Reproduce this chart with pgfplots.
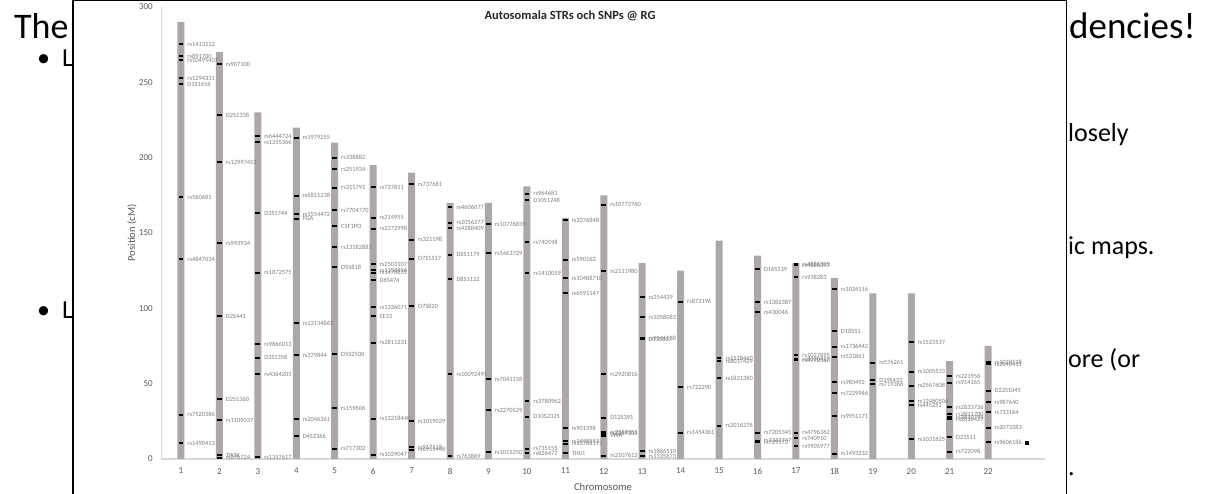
\documentclass[border=0pt]{standalone}
\usepackage{fontspec}
\setmainfont{Carlito}
\usepackage{pgfplots}
\usepackage{pgfplotstable}
\pgfplotsset{compat=1.18}
\definecolor{barcol}{RGB}{172,168,168}
\definecolor{tickcol}{RGB}{89,89,89}
\definecolor{labcol}{RGB}{125,125,125}
\definecolor{axcol}{RGB}{217,217,217}

\pgfplotstableread{
x y
1 290
2 270
3 230
4 220
5 210
6 195
7 190
8 170
9 170
10 181
11 160
12 175
13 130
14 125
15 145
16 135
17 130
18 120
19 110
20 110
21 65
22 75
}\chrlen

\pgfplotstableread{
x y label
1 275.4 rs1413212
1 267.4 rs891700
1 264.8 rs10495407
1 252.8 rs1294331
1 248.8 D1S1656
1 173.9 rs560681
1 132.7 rs4847034
1 29.4 rs7520386
1 10.6 rs1490413
2 262.1 rs907100
2 228.3 D2S1338
2 197.1 rs12997453
2 143.3 rs993934
2 94.9 D2S441
2 39.8 D2S1360
2 25.9 rs1109037
2 2.5 TPOX
2 0.8 rs876724
3 214.3 rs6444724
3 210.4 rs1355366
3 163.2 D3S1744
3 123.6 rs1872575
3 76.1 rs9866013
3 67.2 D3S1358
3 56.4 rs4364205
3 1.1 rs1357617
4 213.2 rs1979255
4 174.7 rs6811238
4 162.6 rs1554472
4 159.5 FGA
4 90.2 rs13134862
4 68.8 rs279844
4 26.5 rs2046361
4 15.3 D4S2366
5 200.0 rs338882
5 192.2 rs251934
5 180.0 rs315791
5 165.2 rs7704770
5 154.6 CSF1PO
5 140.5 rs13182883
5 127.2 D5S818
5 69.5 D5S2500
5 33.6 rs159606
5 6.8 rs717302
6 180.3 rs727811
6 160.1 rs214955
6 152.8 rs2272998
6 129.4 rs2503107
6 125.4 rs1358856
6 123.6 rs1478831
6 118.6 D6S474
6 100.9 rs1336071
6 94.9 SE33
6 77.2 rs2811231
6 26.7 rs13218440
6 2.9 rs1029047
7 182.3 rs737681
7 145.5 rs321198
7 132.9 D7S1517
7 101.3 D7S820
7 25.2 rs1019029
7 7.8 rs917118
7 6.2 rs6955448
8 167.0 rs4606077
8 156.8 rs2056277
8 153.3 rs4288409
8 135.6 D8S1179
8 119.2 D8S1132
8 56.2 rs10092491
8 2.0 rs763869
9 155.9 rs10776839
9 136.5 rs1463729
9 53.1 rs7041158
9 32.3 rs2270529
9 4.6 rs1015250
10 176.0 rs964681
10 172.0 D10S1248
10 143.8 rs740598
10 123.2 rs1410059
10 38.3 rs3780962
10 28.1 D10S2325
10 6.8 rs735155
10 3.8 rs826472
11 158.6 rs2076848
11 132.3 rs590162
11 120.1 rs10488710
11 110.2 rs6591147
11 20.4 rs901398
11 11.9 rs1498553
11 10.2 rs10768173
11 4.0 TH01
12 168.7 rs10773760
12 124.5 rs2111980
12 56.2 rs2920816
12 27.4 D12S391
12 17.9 rs2269355
12 16.9 rs2269305
12 15.5 vWA
12 2.2 rs2107612
13 107.5 rs354439
13 94.2 rs1058083
13 80.3 rs9546538
13 79.6 D13S317
13 5.1 rs1886510
13 2.0 rs1335873
14 104.4 rs873196
14 47.8 rs722290
14 17.5 rs1454361
15 66.8 rs1528460
15 64.8 rs8037429
15 53.5 rs1821380
15 22.1 rs2016276
16 125.9 D16S539
16 104.0 rs1382387
16 97.3 rs430046
16 17.5 rs7205345
16 12.1 rs2342747
16 11.3 rs729172
17 129.4 rs4886309
17 128.7 rs4886393
17 120.6 rs938283
17 69.0 rs1027895
17 66.2 rs8078417
17 65.7 rs4790360
17 17.5 rs4796362
17 13.7 rs740910
17 8.4 rs9905977
18 112.8 rs1024116
18 84.9 D18S51
18 74.5 rs1736442
18 67.9 rs521861
18 50.9 rs985492
18 43.8 rs7229946
18 28.5 rs9951171
18 3.5 rs1493232
19 63.9 rs576261
19 52.2 D19S433
19 49.6 rs719366
20 77.6 rs1523537
20 57.9 rs1005533
20 48.6 rs2567608
20 38.5 rs12480506
20 35.8 rs445251
20 13.1 rs1031825
21 55.1 rs221956
21 50.6 rs914165
21 34.3 rs2833736
21 29.7 rs2831700
21 27.7 rs2830795
21 26.3 rs2836427
21 14.6 D21S11
21 4.8 rs722098
22 64.4 rs1028528
22 63.0 rs2040411
22 45.3 D22S1045
22 37.6 rs987640
22 31.2 rs733164
22 20.8 rs2073383
22 11.3 rs9606186
}\markers

\begin{document}
\begin{tikzpicture}
\useasboundingbox (0pt,0pt) rectangle (1210pt,494pt);
\clip (0pt,0pt) rectangle (1210pt,494pt);
\fill[white] (0pt,0pt) rectangle (1210pt,494pt);
% background slide text
\node[anchor=base west, inner sep=0pt, font=\fontsize{36}{40}\selectfont] at (14pt,455pt) {The};
\node[anchor=base west, inner sep=0pt, font=\fontsize{37}{40}\selectfont] at (1069pt,455pt) {dencies!};
\node[anchor=base west, inner sep=0pt, font=\fontsize{26}{30}\selectfont] at (37pt,427pt) {•};
\node[anchor=base west, inner sep=0pt, font=\fontsize{26}{30}\selectfont] at (62pt,427pt) {L};
\node[anchor=base west, inner sep=0pt, font=\fontsize{26}{30}\selectfont] at (37pt,175pt) {•};
\node[anchor=base west, inner sep=0pt, font=\fontsize{26}{30}\selectfont] at (62pt,175pt) {L};
\node[anchor=base west, inner sep=0pt, font=\fontsize{26}{30}\selectfont] at (1068pt,352pt) {losely};
\node[anchor=base west, inner sep=0pt, font=\fontsize{26}{30}\selectfont] at (1068pt,239pt) {ic maps.};
\node[anchor=base west, inner sep=0pt, font=\fontsize{26}{30}\selectfont] at (1068pt,126pt) {ore (or};
\node[anchor=base west, inner sep=0pt, font=\fontsize{26}{30}\selectfont] at (1068pt,18pt) {.};
% chart frame
\filldraw[fill=white,draw=black,line width=1.5pt] (73pt,-10pt) rectangle (1066.5pt,493.6pt);
\begin{axis}[
  at={(161pt,35pt)}, anchor=south west,
  scale only axis, width=884pt, height=452pt,
  xmin=0.48, xmax=23.48, ymin=0, ymax=300,
  axis lines*=left,
  x axis line style={draw=axcol, line width=1.6pt},
  y axis line style={draw=axcol, line width=0.8pt},
  xtick={1,...,22}, ytick={0,50,...,300},
  major tick length=0pt,
  /pgf/number format/assume math mode=true,
  tick label style={font=\fontsize{9}{10}\selectfont, text=tickcol, inner sep=0pt},
  yticklabel style={anchor=east, xshift=-8pt},
  xticklabel style={anchor=north, yshift=-9pt},
  xlabel={Chromosome}, ylabel={Position (cM)},
  label style={font=\fontsize{10.6}{12}\selectfont, text=tickcol},
  xlabel style={at={(axis description cs:0.5,-0.062)}, anchor=center},
  ylabel style={at={(axis description cs:-0.0328,0.5)}, anchor=center},
  title={Autosomala STRs och SNPs @ RG},
  title style={font=\bfseries\fontsize{12.5}{14}\selectfont, text=black!85, at={(axis description cs:0.4627,0.9667)}, anchor=center},
  clip=false,
]
\addplot[ybar, bar width=7pt, bar shift=0pt, fill=barcol, draw=none] table[x=x,y=y] {\chrlen};
\addplot[only marks, mark=-, mark size=2.4pt, mark options={draw=black, line width=2pt},
  point meta=explicit symbolic, nodes near coords,
  nodes near coords style={anchor=west, inner sep=0pt, xshift=5.5pt, font=\fontsize{6.4}{7}\selectfont, text=labcol}]
  table[x=x,y=y,meta=label] {\markers};
\addplot[only marks, mark=square*, mark size=1.8pt, black] coordinates {(23,10.8)};
\end{axis}
\end{tikzpicture}
\end{document}
